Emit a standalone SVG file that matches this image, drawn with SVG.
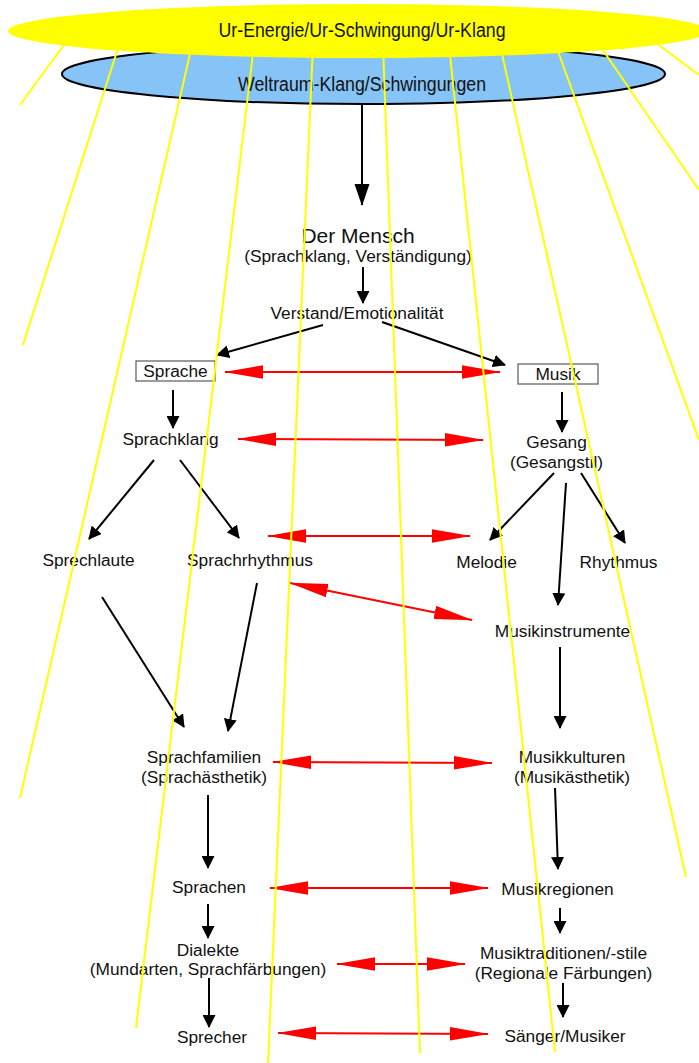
<svg xmlns="http://www.w3.org/2000/svg" width="699" height="1063" viewBox="0 0 699 1063">
<style>
text{font-family:"Liberation Sans",Arial,sans-serif;font-size:17.3px;fill:#111;text-anchor:middle}
.big{font-size:21px}
.top{font-size:19.5px}
.ray{stroke:#ffff00;stroke-width:2;fill:none}
.blk{stroke:#000;stroke-width:2;fill:none;marker-end:url(#ah)}
.red{stroke:#ff0000;stroke-width:2;fill:none;marker-start:url(#rh);marker-end:url(#rh)}
.box{fill:#fff;stroke:#666;stroke-width:1.3}
</style>
<defs>
<marker id="ah" markerUnits="userSpaceOnUse" markerWidth="13" markerHeight="13" refX="12" refY="6.5" orient="auto"><path d="M0,0 L13,6.5 L0,13 z" fill="#000"/></marker>
<marker id="ahb" markerUnits="userSpaceOnUse" markerWidth="22" markerHeight="16" refX="21" refY="7.5" orient="auto"><path d="M0,0 L22,7.5 L0,15 z" fill="#000"/></marker>
<marker id="rh" markerUnits="userSpaceOnUse" markerWidth="40" markerHeight="14" refX="38" refY="6.75" orient="auto-start-reverse"><path d="M0,0 L39,6.75 L0,13.5 z" fill="#ff0000"/></marker>
</defs>
<rect width="699" height="1063" fill="#fff"/>
<g id="weltraum">
<ellipse cx="363.5" cy="74" rx="301.5" ry="30" fill="#86c3f6" stroke="#000" stroke-width="2"/>
<text class="top" x="362" y="91" textLength="248" lengthAdjust="spacingAndGlyphs">Weltraum-Klang/Schwingungen</text>
</g>
<g id="mensch"><text class="big" x="358" y="243">Der Mensch</text><text x="358" y="262">(Sprachklang, Verständigung)</text></g>
<g id="verstand"><text x="357" y="319">Verstand/Emotionalität</text></g>
<g id="sprache"><rect class="box" x="136" y="361" width="79" height="20"/><text x="175.5" y="377">Sprache</text></g>
<g id="musik"><rect class="box" x="518" y="364" width="80" height="20"/><text x="558" y="380">Musik</text></g>
<g id="sprachklang"><text x="170.5" y="445">Sprachklang</text></g>
<g id="gesang"><text x="556.5" y="448">Gesang</text><text x="556.5" y="468">(Gesangstil)</text></g>
<g id="sprechlaute"><text x="88.5" y="566">Sprechlaute</text></g>
<g id="sprachrhythmus"><text x="250" y="566">Sprachrhythmus</text></g>
<g id="melodie"><text x="486.5" y="568">Melodie</text></g>
<g id="rhythmus"><text x="618.5" y="568">Rhythmus</text></g>
<g id="musikinstrumente"><text x="562.5" y="637">Musikinstrumente</text></g>
<g id="sprachfamilien"><text x="204" y="763">Sprachfamilien</text><text x="204" y="783">(Sprachästhetik)</text></g>
<g id="musikkulturen"><text x="572" y="763">Musikkulturen</text><text x="572" y="783">(Musikästhetik)</text></g>
<g id="sprachen"><text x="209" y="893">Sprachen</text></g>
<g id="musikregionen"><text x="557.5" y="895">Musikregionen</text></g>
<g id="dialekte"><text x="208" y="956">Dialekte</text><text x="208" y="975">(Mundarten, Sprachfärbungen)</text></g>
<g id="musiktraditionen"><text x="563.5" y="959">Musiktraditionen/-stile</text><text x="563.5" y="979">(Regionale Färbungen)</text></g>
<g id="sprecher"><text x="212" y="1043">Sprecher</text></g>
<g id="saenger"><text x="565" y="1042">Sänger/Musiker</text></g>
<g id="connectors">
<line x1="362" y1="105" x2="362" y2="205" stroke="#000" stroke-width="2" marker-end="url(#ahb)"/>
<line class="blk" x1="363" y1="267" x2="363" y2="303"/>
<line class="blk" x1="323" y1="325" x2="217" y2="355"/>
<line class="blk" x1="382" y1="322" x2="505" y2="365"/>
<line class="blk" x1="173" y1="390" x2="173" y2="428"/>
<line class="blk" x1="562" y1="392" x2="562" y2="432"/>
<line class="blk" x1="154" y1="460" x2="89" y2="539"/>
<line class="blk" x1="180" y1="460" x2="239" y2="538"/>
<line class="blk" x1="554" y1="473" x2="490" y2="540"/>
<line class="blk" x1="566" y1="483" x2="558" y2="605"/>
<line class="blk" x1="581" y1="473" x2="625" y2="543"/>
<line class="blk" x1="102" y1="597" x2="184" y2="727"/>
<line class="blk" x1="257" y1="583" x2="228" y2="731"/>
<line class="blk" x1="560" y1="647" x2="560" y2="728"/>
<line class="blk" x1="208" y1="795" x2="208" y2="868"/>
<line class="blk" x1="555" y1="788" x2="558" y2="869"/>
<line class="blk" x1="208" y1="904" x2="208" y2="938"/>
<line class="blk" x1="560" y1="908" x2="560" y2="933"/>
<line class="blk" x1="209" y1="978" x2="209" y2="1027"/>
<line class="blk" x1="563" y1="983" x2="563" y2="1017"/>
<line class="red" x1="225" y1="372" x2="500" y2="372"/>
<line class="red" x1="238" y1="439" x2="483" y2="440"/>
<line class="red" x1="268" y1="536" x2="470" y2="536"/>
<line class="red" x1="290" y1="583" x2="472" y2="620"/>
<line class="red" x1="273" y1="762" x2="492" y2="763"/>
<line class="red" x1="270" y1="888" x2="488" y2="888"/>
<line class="red" x1="337" y1="964" x2="465" y2="964"/>
<line class="red" x1="278" y1="1033" x2="488" y2="1034"/>
</g>
<g id="rays">
<line class="ray" x1="66" y1="42" x2="20" y2="105"/>
<line class="ray" x1="119" y1="45" x2="23" y2="345"/>
<line class="ray" x1="192" y1="45" x2="20" y2="798"/>
<line class="ray" x1="254" y1="45" x2="136" y2="1028"/>
<line class="ray" x1="313" y1="45" x2="268" y2="1063"/>
<line class="ray" x1="383" y1="45" x2="420" y2="1053"/>
<line class="ray" x1="449" y1="45" x2="555" y2="1052"/>
<line class="ray" x1="500" y1="45" x2="686" y2="877"/>
<line class="ray" x1="555" y1="43" x2="699" y2="440"/>
<line class="ray" x1="598" y1="43" x2="699" y2="190"/>
<line class="ray" x1="655" y1="42" x2="699" y2="75"/>
</g>
<g id="urenergie">
<ellipse cx="358" cy="31" rx="350" ry="27" fill="#ffff00"/>
<text class="top" x="362" y="37" textLength="287" lengthAdjust="spacingAndGlyphs">Ur-Energie/Ur-Schwingung/Ur-Klang</text>
</g>
</svg>
